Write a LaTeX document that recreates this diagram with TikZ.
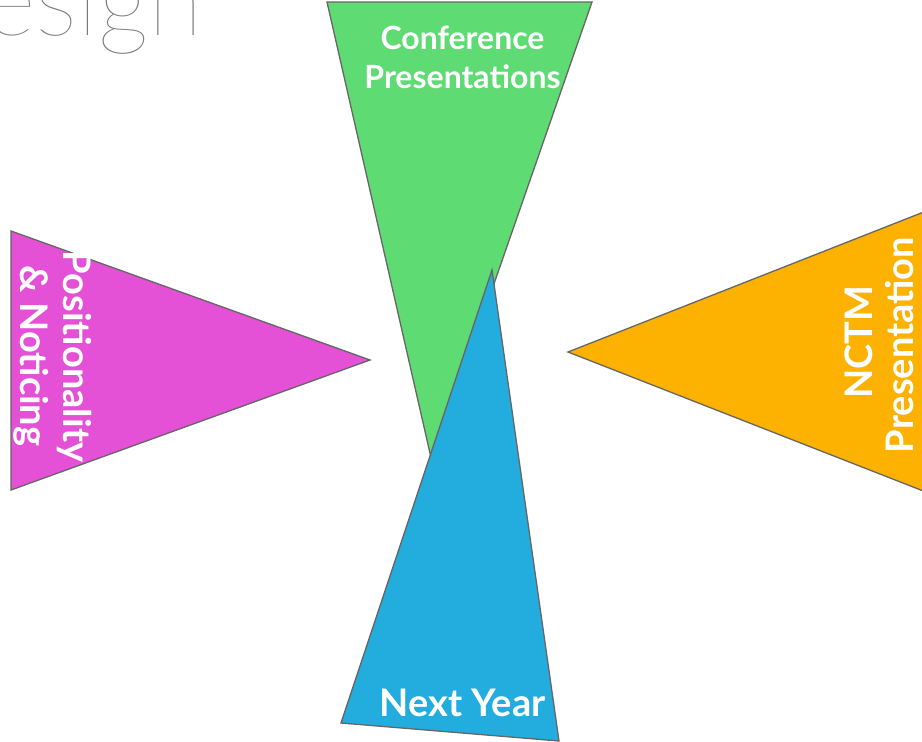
\documentclass[tikz,border=0pt]{standalone}
\usepackage{fontspec}
\setmainfont{Lato}
\IfFontExistsTF{Lato Hairline}{\newfontfamily\thinfont{Lato Hairline}}{%
  \IfFontExistsTF{Lato Thin}{\newfontfamily\thinfont{Lato Thin}}{%
    \IfFontExistsTF{Lato Light}{\newfontfamily\thinfont{Lato Light}}{\newfontfamily\thinfont{Lato}}}}
\definecolor{edgegray}{HTML}{666666}
\definecolor{tmagenta}{HTML}{E451D6}
\definecolor{torange}{HTML}{FDB100}
\definecolor{tgreen}{HTML}{5FDB73}
\definecolor{tblue}{HTML}{23ACDE}
\definecolor{titlegray}{HTML}{7A7A7A}
\begin{document}
\begin{tikzpicture}[x=1pt,y=-1pt,
  tri/.style={draw=edgegray, line width=1.3pt, line join=miter},
  lbl/.style={text=white, font=\bfseries, inner sep=0pt, anchor=base},
  small/.style={lbl, font=\bfseries\fontsize{32}{38}\selectfont},
  big/.style={lbl, font=\bfseries\fontsize{38}{42}\selectfont}]
\useasboundingbox (0,0) rectangle (922,742);
\clip (0,0) rectangle (922,742);
% title fragment
\node[anchor=base east, inner sep=0pt, text=titlegray, font=\thinfont\fontsize{100}{110}\selectfont] (title) at (203,35) {Design};
% triangles
\path[tri, fill=tmagenta] (11,231) -- (370,360) -- (11,490) -- cycle;
\path[tri, fill=torange] (568,352) -- (1000,182) -- (1000,521) -- cycle;
\path[tri, fill=tgreen] (327,2) -- (592,2) -- (432,462) -- cycle;
\path[tri, fill=tblue] (492,270) -- (559,741) -- (341,723) -- cycle;
% labels
\node[small] (conf1) at (462.5,49) {Conference};
\node[small] (conf2) at (462.5,88) {Presentations};
\node[big] (next) at (462.5,716) {Next Year};
\node[big, rotate=-90] (pos1) at (63,356.5) {Positionality};
\node[big, rotate=-90] (pos2) at (20,356) {\& Noticing};
\node[big, rotate=90] (nctm1) at (872,342) {NCTM};
\node[big, rotate=90] (nctm2) at (913,345) {Presentation};
\end{tikzpicture}
\end{document}
